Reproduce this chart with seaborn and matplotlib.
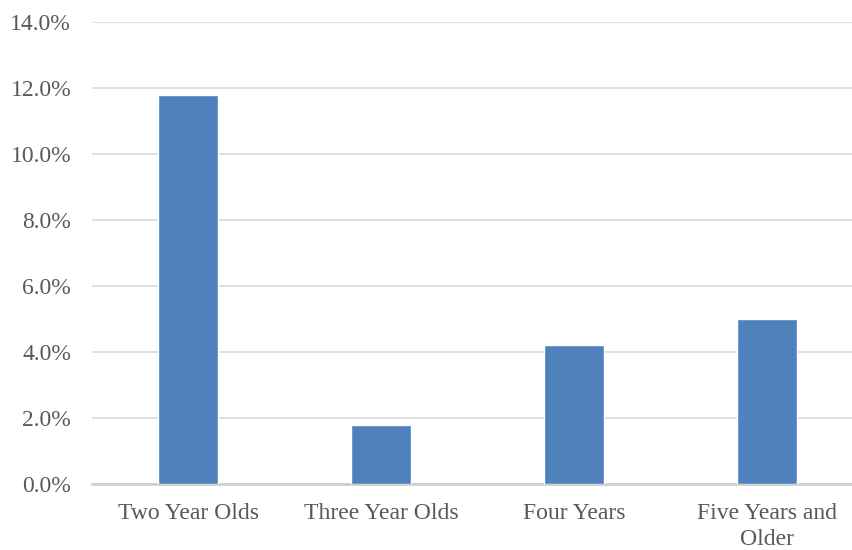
import matplotlib
matplotlib.use("Agg")
import matplotlib.pyplot as plt
import seaborn as sns
import pandas as pd
from matplotlib.ticker import FuncFormatter, MultipleLocator

categories = ["Two Year Olds", "Three Year Olds", "Four Years", "Five Years and\nOlder"]
values = [11.8, 1.8, 4.2, 5.0]

sns.set_theme(style="white")
plt.rcParams['font.family'] = ['Liberation Serif', 'DejaVu Serif']

df = pd.DataFrame({"cat": categories, "val": values})

fig = plt.figure(figsize=(8.53, 5.5), dpi=100)
ax = fig.add_axes([92/853, 66/550, 771/853, 462/550])
sns.barplot(data=df, x="cat", y="val", color="#4f81bd", saturation=1, width=0.31, ax=ax, zorder=3)

ax.set_ylim(0, 14)
ax.set_xlim(-0.5, 3.5)
ax.yaxis.set_major_locator(MultipleLocator(2))
ax.yaxis.set_major_formatter(FuncFormatter(lambda v, p: f"{v:.1f}%"))
ax.grid(axis="y", color="#d9d9d9", linewidth=1.2, zorder=0)
ax.set_axisbelow(True)
for s in ["top", "right", "left"]:
    ax.spines[s].set_visible(False)
ax.spines["bottom"].set_color("#d0d0d0")
ax.spines["bottom"].set_linewidth(2)
ax.set_xlabel("")
ax.set_ylabel("")
ax.tick_params(axis="both", length=0, labelsize=17, labelcolor="#595959")
ax.tick_params(axis="y", pad=15)
ax.tick_params(axis="x", pad=14)
for t in ax.get_xticklabels():
    t.set_linespacing(1.3)

fig.savefig("out.png", dpi=100)
